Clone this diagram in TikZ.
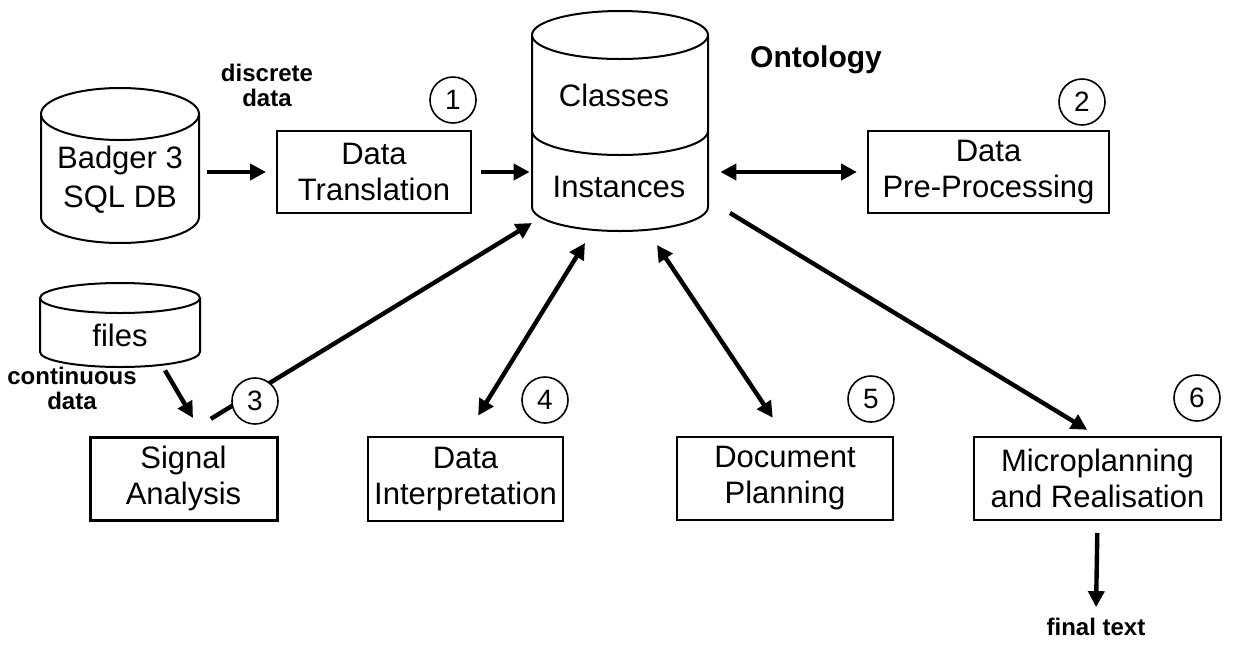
\documentclass[tikz,border=0pt]{standalone}
\usepackage{fontspec}
\setmainfont{Liberation Sans}
\usetikzlibrary{arrows.meta}
\newcommand\boxfont{\fontsize{15.5pt}{18pt}\selectfont}
\begin{document}
\begin{tikzpicture}[x=0.5pt,y=-0.5pt,
  box/.style={draw, line width=1pt, align=center, font=\boxfont, inner sep=0pt, minimum height=41pt},
  db/.style={draw, fill=white, line width=1pt},
  num/.style={circle, draw, fill=white, line width=0.8pt, minimum size=23pt, inner sep=0pt, font=\fontsize{14pt}{14pt}\selectfont},
  lbl/.style={align=center, font=\bfseries\fontsize{12pt}{12.5pt}\selectfont},
  arr/.style={line width=2.2pt, -{Triangle[length=8pt,width=8pt]}},
  darr/.style={line width=2.2pt, {Triangle[length=8pt,width=8pt]}-{Triangle[length=8pt,width=8pt]}}]
\useasboundingbox (0,0) rectangle (1233,644);
\draw[db] (41,114) -- (41,217) arc[start angle=180, end angle=360, x radius=39.5pt, y radius=13pt] -- (199,114);
\draw[db] (120,114) ellipse[x radius=39.5pt, y radius=13pt];
\draw[db] (532,35) -- (532,207) arc[start angle=180, end angle=360, x radius=44pt, y radius=12pt] -- (708,35);
\draw[db] (620,35) ellipse[x radius=44pt, y radius=12pt];
\draw[db] (532,131) arc[start angle=180, end angle=360, x radius=44pt, y radius=12pt];
\draw[db] (40,298) -- (40,352) arc[start angle=180, end angle=360, x radius=40pt, y radius=7.5pt] -- (200,298);
\draw[db] (120,298) ellipse[x radius=40pt, y radius=7.5pt];
\node[align=center, font=\fontsize{15.5pt}{19.5pt}\selectfont, minimum width=79pt] (badger) at (120,180) {Badger 3\\SQL DB};
\node[font=\boxfont, minimum width=80pt, minimum height=35pt, inner sep=0pt] (files) at (120,335) {files};
\node[font=\boxfont] at (614,95) {Classes};
\node[font=\boxfont, minimum width=87pt] (inst) at (619,187) {Instances};
\node[font=\bfseries\fontsize{15pt}{15pt}\selectfont] (onto) at (816,60) {Ontology};
\node[box, minimum width=97pt] (trans) at (374,172) {Data\\Translation};
\node[box, minimum width=120.5pt] (prep) at (988.5,172) {Data\\Pre-Processing};
\node[box, line width=1.5pt, minimum width=93.5pt, minimum height=41.5pt] (signal) at (183.5,478.5) {Signal\\Analysis};
\node[box, minimum width=97.5pt, minimum height=42pt] (interp) at (465.5,479) {Data\\Interpretation};
\node[box, minimum width=108pt, minimum height=41.5pt] (docplan) at (785,478.5) {Document\\Planning};
\node[box, minimum width=123.5pt, minimum height=41.5pt] (micro) at (1097.5,478.5) {Microplanning\\and Realisation};
\node[lbl] (discrete) at (267,85) {discrete\\data};
\node[lbl] (continuous) at (72,388) {continuous\\data};
\node[lbl] (final) at (1096,627) {final text};
\coordinate (ontosw) at (532,223);
\coordinate (ontos1) at (585,243);
\coordinate (ontos2) at (657,245);
\coordinate (ontose) at (730,213);
\coordinate (sigin) at (193,418);
\draw[arr, shorten <=4pt, shorten >=5pt] (trans.west -| badger.east) -- (trans.west);
\draw[arr, shorten <=4.5pt, shorten >=1pt] (trans.east) -- (trans.east -| inst.west);
\draw[darr, shorten <=7pt, shorten >=5pt] (prep.west -| inst.east) -- (prep.west);
\draw[arr] ([xshift=22.5pt]files.south) -- (sigin);
\draw[arr, shorten <=16pt] (signal.north) -- (ontosw);
\draw[darr, shorten <=12pt] (interp.north) -- (ontos1);
\draw[darr, shorten >=11pt] (ontos2) -- (docplan.north);
\draw[arr, shorten >=6pt] (ontose) -- (micro.north);
\draw[arr, shorten <=6pt, shorten >=2pt] (micro.south) -- (final.north);
\node[num] (n1) at (453,100) {1};
\node[num] (n2) at (1082,102) {2};
\node[num] (n3) at (255,401) {3};
\node[num] (n4) at (545,400) {4};
\node[num] (n5) at (871,399) {5};
\node[num] (n6) at (1197,398) {6};
\end{tikzpicture}
\end{document}
